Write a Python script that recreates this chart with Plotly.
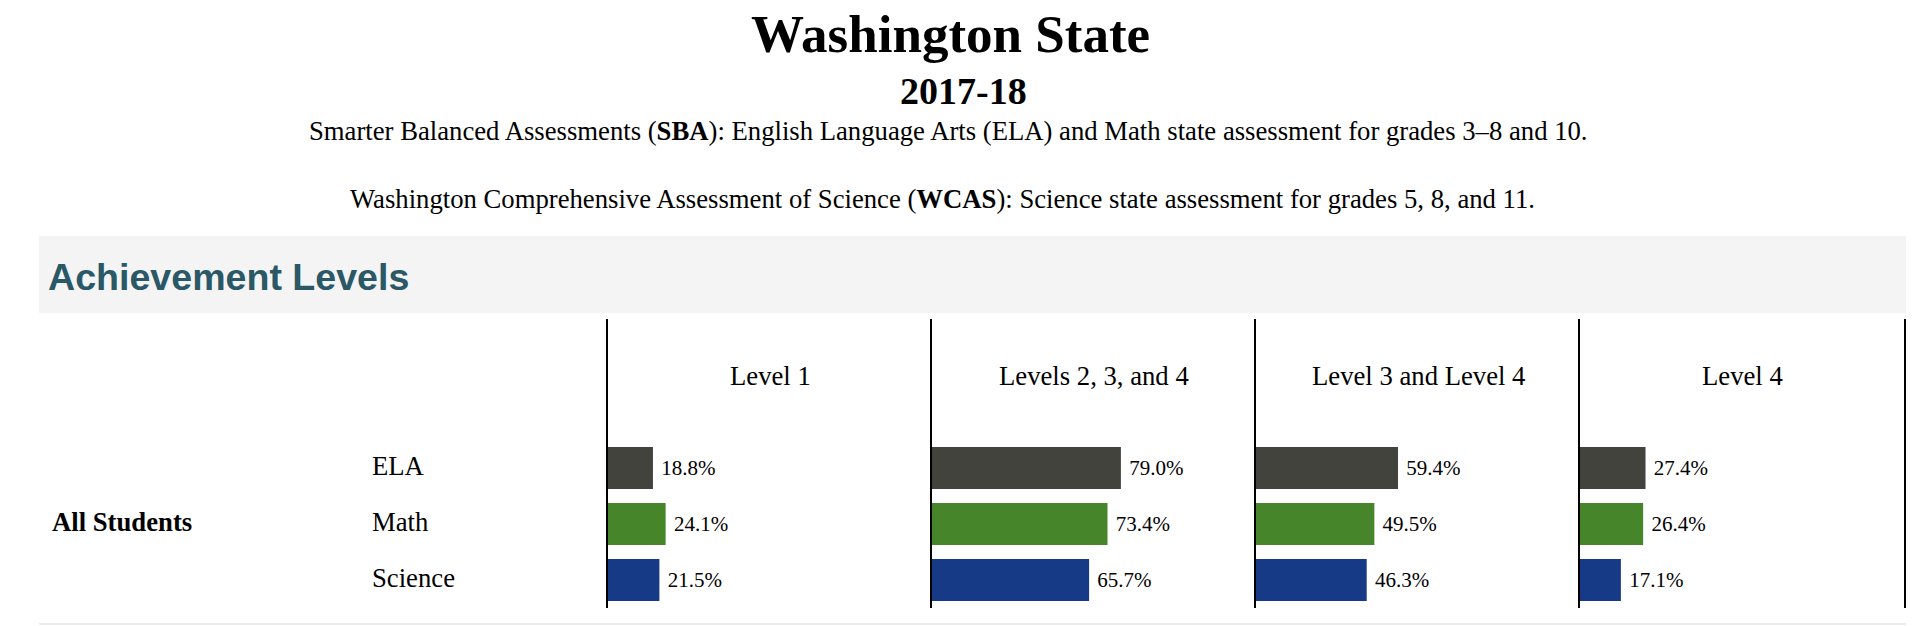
import plotly.graph_objects as go

# page body margin (8px) is compensated so coordinates below are window pixels
OFF = 8
W, H = 1930 - OFF, 626 - OFF

levels = ["Level 1", "Levels 2, 3, and 4", "Level 3 and Level 4", "Level 4"]
subjects = ["ELA", "Math", "Science"]
group_label = "All Students"
ela = [18.8, 79.0, 59.4, 27.4]
math = [24.1, 73.4, 49.5, 26.4]
science = [21.5, 65.7, 46.3, 17.1]
colors = ["#42433d", "#47852b", "#163a85"]

title = "Washington State"
year = "2017-18"
desc1 = "Smarter Balanced Assessments (<b>SBA</b>): English Language Arts (ELA) and Math state assessment for grades 3\u20138 and 10."
desc2 = "Washington Comprehensive Assessment of Science (<b>WCAS</b>): Science state assessment for grades 5, 8, and 11."
section = "Achievement Levels"

SERIF = "Liberation Serif"
SANS = "Liberation Sans"


def px(x):
    return (x - OFF) / W


def py(y):
    return 1 - (y - OFF) / H


panel_left, panel_w = 608, 324
top, bottom = 319, 608

fig = go.Figure()
values = [ela, math, science]
for i, lev in enumerate(levels):
    xs = [v[i] for v in values]
    sfx = "" if i == 0 else str(i + 1)
    fig.add_trace(go.Bar(
        x=xs, y=subjects, orientation="h",
        marker=dict(color=colors, line=dict(width=0)),
        texttemplate=" %{x:.1f}%", textposition="outside",
        textfont=dict(family=SERIF, size=21, color="#000"),
        cliponaxis=False, hoverinfo="skip", showlegend=False,
        xaxis="x" + sfx, yaxis="y" + sfx,
    ))
    x0 = panel_left + panel_w * i
    fig.layout["xaxis" + sfx] = dict(
        domain=[px(x0), px(x0 + panel_w)], range=[0, 135.5],
        showticklabels=False, showgrid=False, zeroline=False, ticks="",
        anchor="y" + sfx, fixedrange=True,
    )
    fig.layout["yaxis" + sfx] = dict(
        domain=[py(bottom), py(top)], type="category",
        categoryorder="array", categoryarray=subjects,
        range=[2.5, -2.661], showticklabels=False, showgrid=False,
        zeroline=False, ticks="", showline=True, linecolor="#000",
        linewidth=2, mirror=(i == len(levels) - 1),
        anchor="x" + sfx, fixedrange=True,
    )
    fig.add_annotation(
        text=lev, xref="x" + sfx + " domain", x=0.5, xanchor="center",
        yref="paper", y=py(376), yanchor="middle", showarrow=False,
        font=dict(family=SERIF, size=26.7, color="#000"),
    )

for s in subjects:
    fig.add_annotation(
        text=s, xref="paper", x=px(370), xanchor="left",
        yref="y", y=s, yanchor="middle", yshift=2, showarrow=False,
        font=dict(family=SERIF, size=26.7, color="#000"),
    )
fig.add_annotation(
    text="<b>" + group_label + "</b>", xref="paper", x=px(50), xanchor="left",
    yref="y", y=subjects[1], yanchor="middle", yshift=2, showarrow=False,
    font=dict(family=SERIF, size=26.7, color="#000"),
)

heads = [
    ("<b>" + title + "</b>", 53, 950, 34),
    ("<b>" + year + "</b>", 38, 963, 91),
    (desc1, 26.7, 948, 131),
    (desc2, 26.7, 942, 199),
]
for t, fs, cx, cy in heads:
    fig.add_annotation(
        text=t, xref="paper", x=px(cx), xanchor="center",
        yref="paper", y=py(cy), yanchor="middle", showarrow=False,
        font=dict(family=SERIF, size=fs, color="#000"),
    )

fig.add_shape(type="rect", xref="paper", yref="paper",
              x0=px(39), x1=px(1906), y0=py(313), y1=py(236),
              fillcolor="#f4f4f4", line=dict(width=0), layer="below")
fig.add_annotation(
    text="<b>" + section + "</b>", xref="paper", x=px(46), xanchor="left",
    yref="paper", y=py(277), yanchor="middle", showarrow=False,
    font=dict(family=SANS, size=37.6, color="#2b5866"),
)
fig.add_shape(type="line", xref="paper", yref="paper",
              x0=px(39), x1=px(1906), y0=py(624), y1=py(624),
              line=dict(color="#ececec", width=2))

fig.update_layout(
    width=W, height=H, margin=dict(l=0, r=0, t=0, b=0),
    paper_bgcolor="#fff", plot_bgcolor="rgba(0,0,0,0)",
    bargap=0.25, showlegend=False,
)
fig.write_html("out.html", config={"displayModeBar": False})
